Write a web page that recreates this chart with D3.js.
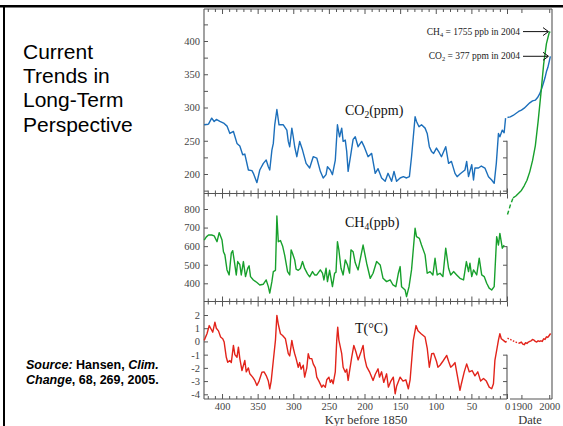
<!DOCTYPE html>
<html>
<head>
<meta charset="utf-8">
<script src="https://cdn.jsdelivr.net/npm/d3@7"></script>
<style>
  html, body { margin: 0; padding: 0; background: #fff; }
  svg { display: block; }
</style>
</head>
<body>
<script>
// ice core records: [kyr before 1850, value]
const co2Core = [
  [425, 274], [419, 275], [414.5, 284], [411, 279], [408, 282], [403, 279], [397, 276],
  [393, 272], [389, 261], [384, 264], [379, 246], [375, 242], [371, 229], [368, 230],
  [363, 206], [358, 205], [356, 201], [351, 187], [347, 206], [342, 216], [338, 221],
  [335, 211], [333, 206], [330, 236], [328, 246], [326, 274], [323, 297], [320, 274],
  [314, 274], [309, 266], [307, 249], [305, 241], [302, 269], [300, 256], [298, 241],
  [295, 226], [291, 249], [287, 236], [282, 216], [277, 209], [272, 226], [267, 224],
  [262, 204], [258, 194], [254, 199], [252, 211], [248, 206], [245, 199], [241, 221],
  [238, 274], [235, 256], [232, 269], [230, 249], [227, 251], [225, 234], [223, 204],
  [219, 231], [216, 252], [213, 256], [209, 241], [204, 249], [200, 240], [195, 226],
  [190, 231], [185, 201], [181, 208], [176, 194], [171, 189], [167, 201], [162, 189],
  [158.6, 204], [155, 189], [150, 194], [145.5, 196], [141, 194], [137, 196], [134, 226],
  [129, 286], [127, 279], [123.5, 271], [120, 274], [115, 269], [112, 261], [109, 241],
  [106, 234], [103, 231], [99, 239], [95, 232], [92, 226], [86, 241], [82, 216],
  [78, 219], [73, 201], [70, 196], [66, 200], [59, 206], [56.6, 219], [54, 196],
  [49.5, 214], [47, 191], [45, 209], [40, 209], [36, 212], [31, 209], [26, 196],
  [21.5, 191], [18, 186], [15, 216], [12, 261], [10, 256], [6.6, 266], [4, 262], [2, 284]
];

const ch4Core = [
  [425, 633], [422, 650], [419, 660], [414.5, 660], [411, 655], [407, 624], [404, 673],
  [400, 633], [398, 570], [396, 553], [393, 472], [390, 445], [387, 562], [385, 576],
  [383, 526], [380, 445], [378, 517], [375, 500], [373, 445], [370, 517], [367, 436],
  [364, 480], [362, 494], [360, 436], [356, 418], [351, 404], [347, 391], [342, 395],
  [338, 418], [335, 382], [333, 347], [330, 409], [328, 463], [325, 470], [323, 762],
  [321, 624], [318, 630], [315, 601], [312, 550], [308, 463], [305, 445], [303, 580],
  [301, 560], [298, 526], [296, 476], [293, 470], [290, 480], [287, 517], [284, 480],
  [280, 451], [277, 435], [273, 463], [270, 445], [267, 445], [262, 472], [259, 455],
  [257, 418], [254, 481], [252, 409], [249, 470], [245, 382], [242, 454], [240, 460],
  [238, 624], [236, 580], [233, 481], [230, 445], [227, 526], [224, 500], [221, 455],
  [219, 580], [216, 570], [213, 510], [211, 490], [209, 472], [202, 606], [197, 508],
  [192, 427], [188, 454], [183, 517], [178, 499], [174, 427], [169, 409], [164, 418],
  [160, 391], [156, 382], [152.5, 454], [150, 490], [148, 382], [143, 364], [141, 328],
  [137.5, 382], [134, 472], [129, 696], [127, 651], [123, 642], [120, 606], [115, 553],
  [112, 454], [108, 463], [104, 445], [101, 535], [98, 445], [94, 454], [90, 436],
  [86, 589], [82, 481], [79, 445], [75, 463], [70.6, 445], [66, 427], [61, 418],
  [57, 517], [54, 463], [52, 508], [49.5, 436], [47, 472], [42.5, 445], [39, 535],
  [35.5, 445], [32, 436], [28.5, 400], [25, 374], [21.5, 364], [18, 382], [14.5, 651],
  [12, 606], [10, 669], [6.6, 589], [4, 606]
];

const tempCore = [
  [425, 0.08], [421, 0.6], [418, 1.2], [415, 0.9], [413, 0.7], [410, 1.46], [408, 1.0],
  [405, 0.8], [402, 0.33], [399, 0.2], [397, -0.05], [394, -1.2], [392, -1.57],
  [389, -1.45], [387, -1.6], [384, -0.3], [382, -1.0], [379, -1.2], [377, -0.43],
  [375, -1.3], [372, -2.2], [368, -1.44], [366, -2.3], [363, -2.0], [361, -2.45],
  [357, -2.7], [354, -2.95], [351, -3.33], [348, -3.0], [344, -2.33], [341, -2.3],
  [338, -2.58], [335, -3.0], [333, -3.58], [331, -3.0], [328, -1.44], [325, 0.1],
  [323, 1.97], [321, 1.3], [318, 0.58], [315, 0.45], [311, 0.2], [307, -0.93],
  [305, -1.1], [302, 0.08], [300, -0.5], [298, -0.93], [296, -1.3], [293, -1.95],
  [291, -1.6], [289, -2.1], [286, -1.8], [284, -2.7], [281, -2.0], [279, -0.93],
  [277, -1.3], [274, -1.3], [272, -1.7], [269, -2.0], [267, -2.7], [264, -3.0],
  [260, -3.46], [258, -3.3], [255, -3.46], [253, -2.9], [250, -2.7], [248, -3.1],
  [246, -2.9], [244, -3.2], [241, -2.3], [239, 0.08], [237.6, 1.08], [236, 0.1],
  [232, -0.93], [230, -1.95], [227, -2.33], [225, -2.1], [223, -2.95], [218, -1.2],
  [215, -0.3], [212, -0.8], [209, -1.4], [205, -0.8], [202, -0.3], [200, -1.2],
  [197, -1.9], [193, -2.3], [188, -2.95], [185, -2.5], [181, -2.07], [179, -2.7],
  [176, -2.3], [173, -3.1], [169, -2.45], [166.5, -3.46], [163, -3.0], [159.6, -2.7],
  [157, -3.96], [155, -3.4], [150, -2.7], [146, -3.0], [142, -2.9], [138.5, -3.58],
  [136, -2.9], [131.5, 0.08], [127.7, 1.2], [125, 0.8], [121, 0.6], [115, 0.33],
  [112, -0.5], [109, -1.95], [105.7, -0.93], [103, -0.9], [99, -1.5], [97, -1.95],
  [94, -1.8], [90, -1.5], [84.6, -1.06], [82, -1.5], [79, -1.95], [76, -1.8],
  [73, -1.6], [69.7, -2.58], [66, -3.7], [64, -3.2], [60, -2.3], [56.6, -1.7],
  [53, -2.3], [49, -2.2], [45, -2.6], [41, -2.3], [37, -3.0], [33, -2.8], [29, -3.0],
  [25, -3.46], [21.5, -3.58], [19, -3.2], [17, -1.44], [14.5, -0.68], [12, 0.1],
  [10, 0.58], [8, 0.2], [5, 0.08], [2, -0.05], [0.5, 0.0]
];

// instrumental / firn records: [year, value]
const co2Modern = [
  [1850, 285], [1860, 286], [1870, 288], [1880, 291], [1890, 294], [1900, 296],
  [1910, 299], [1920, 303], [1930, 307], [1940, 310], [1950, 311], [1958, 315],
  [1965, 320], [1970, 325], [1975, 331], [1980, 338], [1985, 345], [1990, 354],
  [1995, 360], [2000, 369], [2004, 377]
];
const ch4ModernDashed = [[1850, 770], [1860, 820], [1870, 860]];
const ch4Modern = [
  [1870, 860], [1880, 870], [1890, 885], [1900, 900], [1910, 925], [1920, 955],
  [1930, 1000], [1940, 1060], [1950, 1140], [1960, 1270], [1970, 1420], [1980, 1580],
  [1990, 1690], [2000, 1750], [2004, 1755]
];
const tempModernDotted = [[1850, 0.25], [1860, 0.15], [1870, 0.05], [1880, -0.05], [1890, -0.15]];
const tempModern = [
  [1890, -0.15], [1895, -0.1], [1900, -0.05], [1905, -0.2], [1910, -0.25], [1915, -0.1],
  [1920, -0.15], [1925, -0.05], [1930, 0.0], [1935, 0.05], [1940, 0.15], [1945, 0.1],
  [1950, 0.0], [1955, -0.05], [1960, 0.05], [1965, 0.0], [1970, 0.05], [1975, 0.0],
  [1980, 0.2], [1985, 0.15], [1990, 0.35], [1995, 0.3], [2000, 0.45], [2005, 0.6]
];

// tick values
const kyrTicks = d3.range(0, 421, 10);
const dateTicks = [1900, 2000];
const co2Ticks = d3.range(175, 426, 25);
const ch4Ticks = [400, 500, 600, 700, 800];
const tempTicks = [-4, -3, -2, -1, 0, 1, 2];

// text
const titleLines = ["Current", "Trends in", "Long-Term", "Perspective"];

// layout
const width = 563;
const height = 426;
const xLeft = 204, xRight = 507, xDateRight = 552;
const yTop = 9, yB1 = 193.5, yB2 = 301.5, yBottom = 399;
const axisColor = "#555";
const serif = "'Liberation Serif', 'Times New Roman', serif";
const sans = "'Liberation Sans', Arial, sans-serif";

const colors = { co2: "#1c6fbb", ch4: "#17a02c", temp: "#e2231a" };

const svg = d3.select("body").append("svg")
  .attr("width", width)
  .attr("height", height);

svg.append("rect").attr("width", width).attr("height", height).attr("fill", "#fff");

// slide border
svg.append("rect").attr("x", 0).attr("y", 5).attr("width", width).attr("height", 2.5).attr("fill", "#000");
svg.append("rect").attr("x", 3).attr("y", 5).attr("width", 2).attr("height", height).attr("fill", "#000");

// title
svg.append("text")
  .attr("font-family", sans)
  .attr("font-size", 21)
  .attr("fill", "#000")
  .selectAll("tspan")
  .data(titleLines)
  .enter()
  .append("tspan")
  .attr("x", 23)
  .attr("y", (d, i) => 59 + i * 24.2)
  .text(d => d);

// source
const src = svg.append("text")
  .attr("font-family", sans)
  .attr("font-size", 12.5)
  .attr("font-weight", "bold")
  .attr("fill", "#000");
const s1 = src.append("tspan").attr("x", 26).attr("y", 368.5);
s1.append("tspan").attr("font-style", "italic").text("Source:");
s1.append("tspan").text(" Hansen, ");
s1.append("tspan").attr("font-style", "italic").text("Clim.");
const s2 = src.append("tspan").attr("x", 26).attr("y", 384);
s2.append("tspan").attr("font-style", "italic").text("Change");
s2.append("tspan").text(", 68, 269, 2005.");

// scales
const x = d3.scaleLinear().domain([425.3, 0]).range([xLeft, xRight]);
const xDate = d3.scaleLinear().domain([1850, 2010]).range([507.5, xDateRight]);
const co2Y = d3.scaleLinear().domain([200, 400]).range([174, 41]);
const ch4Y = d3.scaleLinear().domain([400, 800]).range([283.3, 209]);
const tY = d3.scaleLinear().domain([-4, 2]).range([394.3, 315]);

// frame lines
const frame = svg.append("g").attr("stroke", axisColor).attr("stroke-width", 1.1).attr("fill", "none");
frame.append("line").attr("x1", xLeft).attr("x2", xDateRight).attr("y1", yTop).attr("y2", yTop);
frame.append("line").attr("x1", xLeft).attr("x2", xLeft).attr("y1", yTop).attr("y2", yBottom);
frame.append("line").attr("x1", xDateRight).attr("x2", xDateRight).attr("y1", yTop).attr("y2", yBottom);
[yB1, yB2, yBottom].forEach(y => {
  frame.append("line").attr("x1", xLeft).attr("x2", xRight).attr("y1", y).attr("y2", y);
});
frame.append("line").attr("x1", 510).attr("x2", xDateRight).attr("y1", yBottom).attr("y2", yBottom);

function styleAxis(g) {
  g.select(".domain").remove();
  g.selectAll(".tick line").attr("stroke", axisColor);
  g.selectAll(".tick text")
    .attr("font-family", serif)
    .attr("font-size", 10.5)
    .attr("fill", "#444");
}

// kyr ticks on every horizontal boundary
const isMajor = d => d % 50 === 0;
function kyrAxis(y, dir, labels) {
  const ax = d3.axisBottom(x)
    .tickValues(kyrTicks)
    .tickSize(0)
    .tickPadding(4)
    .tickFormat(d => isMajor(d) ? String(d) : "");
  const g = svg.append("g").attr("transform", `translate(0,${y})`).call(ax);
  styleAxis(g);
  g.selectAll(".tick line").attr("y2", d => dir * (isMajor(d) ? 5 : 3));
  if (labels) {
    g.selectAll(".tick text").filter(d => !isMajor(d)).remove();
    g.selectAll(".tick text").attr("y", 4).attr("dy", "0.71em");
  } else {
    g.selectAll(".tick text").remove();
  }
  return g;
}
kyrAxis(yTop, 1, false);
kyrAxis(yB1, -1, false);
kyrAxis(yB1, 1, false);
kyrAxis(yB2, -1, false);
kyrAxis(yB2, 1, false);
kyrAxis(yBottom, -1, true);

// date axis
const dateAxisG = svg.append("g").attr("transform", `translate(0,${yBottom})`)
  .call(d3.axisBottom(xDate).tickValues(dateTicks).tickSize(-4).tickPadding(4).tickFormat(d3.format("d")));
styleAxis(dateAxisG);
dateAxisG.selectAll(".tick text").attr("y", 4).attr("dy", "0.71em");
const dateTopG = svg.append("g").attr("transform", `translate(0,${yTop})`)
  .call(d3.axisBottom(xDate).tickValues(dateTicks).tickSize(4).tickFormat(""));
styleAxis(dateTopG);
dateTopG.selectAll(".tick text").remove();

// left value axes
const co2AxisG = svg.append("g").attr("transform", `translate(${xLeft},0)`)
  .call(d3.axisLeft(co2Y).tickValues(co2Ticks).tickSize(-4).tickPadding(4)
    .tickFormat(d => d % 50 === 0 && d >= 200 && d <= 400 ? String(d) : ""));
styleAxis(co2AxisG);
const ch4AxisG = svg.append("g").attr("transform", `translate(${xLeft},0)`)
  .call(d3.axisLeft(ch4Y).tickValues(ch4Ticks).tickSize(-4).tickPadding(4).tickFormat(d => String(d)));
styleAxis(ch4AxisG);
const tAxisG = svg.append("g").attr("transform", `translate(${xLeft},0)`)
  .call(d3.axisLeft(tY).tickValues(tempTicks).tickSize(-4).tickPadding(4).tickFormat(d => String(d)));
styleAxis(tAxisG);

// short right axes (below the modern curves)
function rightAxis(scale, ticks, y0, y1) {
  svg.append("line").attr("x1", xRight).attr("x2", xRight).attr("y1", y0).attr("y2", y1)
    .attr("stroke", axisColor).attr("stroke-width", 1.1);
  const g = svg.append("g").attr("transform", `translate(${xRight},0)`)
    .call(d3.axisRight(scale).tickValues(ticks).tickSize(-4).tickFormat(""));
  styleAxis(g);
  g.selectAll(".tick text").remove();
}
rightAxis(co2Y, [175, 200, 225, 250], co2Y(250), yB1);
rightAxis(ch4Y, [400, 500, 600], ch4Y(600), yB2);
rightAxis(tY, [-4, -3, -2, -1], tY(-1), yBottom);

// axis titles
svg.append("text").attr("x", 366).attr("y", 424).attr("text-anchor", "middle")
  .attr("font-family", serif).attr("font-size", 12.5).attr("fill", "#333").text("Kyr before 1850");
svg.append("text").attr("x", 530).attr("y", 424).attr("text-anchor", "middle")
  .attr("font-family", serif).attr("font-size", 12.5).attr("fill", "#333").text("Date");

// series lines
const coreLine = yScale => d3.line().x(d => x(d[0])).y(d => yScale(d[1]));
const dateLine = yScale => d3.line().x(d => xDate(d[0])).y(d => yScale(d[1]));

function drawLine(data, gen, color, dash) {
  svg.append("path")
    .datum(data)
    .attr("d", gen)
    .attr("fill", "none")
    .attr("stroke", color)
    .attr("stroke-width", 1.4)
    .attr("stroke-linejoin", "round")
    .attr("stroke-dasharray", dash || null);
}

drawLine(co2Core, coreLine(co2Y), colors.co2);
drawLine(co2Modern, dateLine(co2Y), colors.co2);
drawLine(ch4Core, coreLine(ch4Y), colors.ch4);
drawLine(ch4ModernDashed, dateLine(ch4Y), colors.ch4, "4,2.5");
drawLine(ch4Modern, dateLine(ch4Y), colors.ch4);
drawLine(tempCore, coreLine(tY), colors.temp);
drawLine(tempModernDotted, dateLine(tY), colors.temp, "1.5,1.5");
drawLine(tempModern, dateLine(tY), colors.temp);

// panel labels
function chemLabel(xp, yp, main, sub, rest) {
  const t = svg.append("text").attr("x", xp).attr("y", yp)
    .attr("font-family", serif).attr("font-size", 14).attr("fill", "#111");
  t.append("tspan").text(main);
  if (sub) t.append("tspan").attr("font-size", 9.5).attr("dy", 3).text(sub);
  t.append("tspan").attr("dy", sub ? -3 : 0).text(rest);
}
chemLabel(345, 115, "CO", "2", "(ppm)");
chemLabel(345, 227, "CH", "4", "(ppb)");
chemLabel(355, 333, "T(°C)", null, "");

// 2004 annotations
function annotate(yp, main, sub, rest) {
  const t = svg.append("text").attr("x", 520).attr("y", yp + 3).attr("text-anchor", "end")
    .attr("font-family", serif).attr("font-size", 9.5).attr("fill", "#222");
  t.append("tspan").text(main);
  t.append("tspan").attr("font-size", 6.5).attr("dy", 2).text(sub);
  t.append("tspan").attr("dy", -2).text(rest);
  const g = svg.append("g").attr("stroke", "#111").attr("stroke-width", 1).attr("fill", "none");
  g.append("line").attr("x1", 523).attr("x2", 548).attr("y1", yp).attr("y2", yp);
  g.append("polyline").attr("points", `${543},${yp - 4} ${548.5},${yp} ${543},${yp + 4}`);
}
annotate(ch4Y(1755), "CH", "4", " = 1755 ppb in 2004");
annotate(co2Y(377), "CO", "2", " = 377 ppm in 2004");
</script>
</body>
</html>
